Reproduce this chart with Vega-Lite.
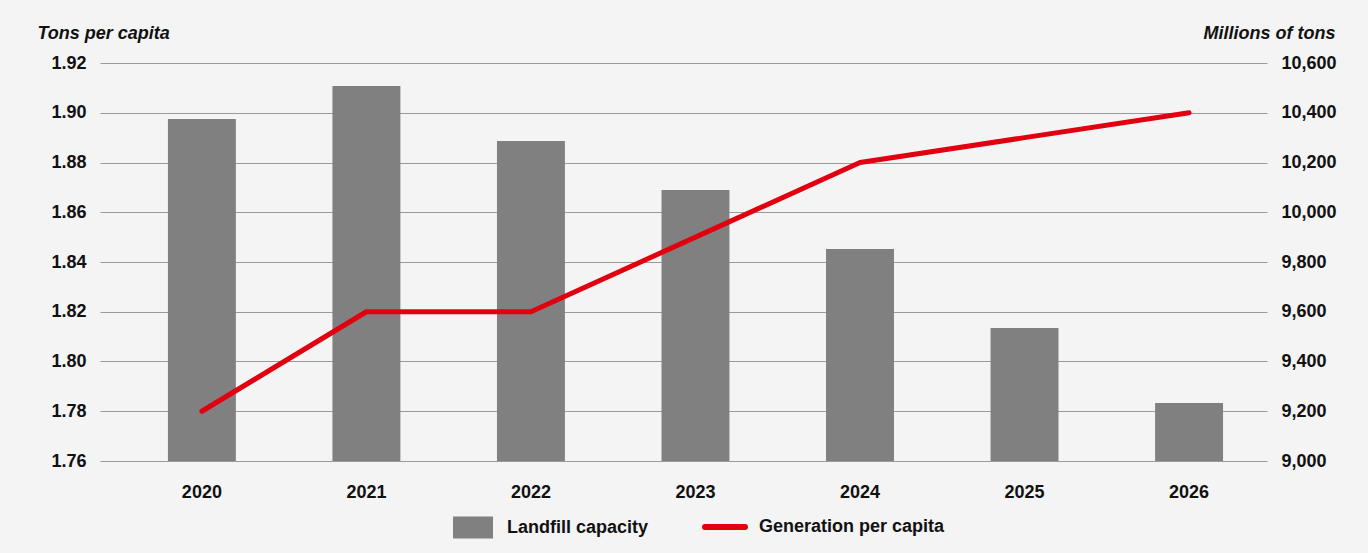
{
  "$schema": "https://vega.github.io/schema/vega-lite/v6.json",
  "autosize": {"type": "none"},
  "width": 1167,
  "height": 398,
  "padding": {"left": 100, "top": 63, "right": 101, "bottom": 92},
  "background": "#f4f4f4",
  "config": {
    "font": "Liberation Sans",
    "view": {"stroke": null},
    "axis": {"labelFont": "Liberation Sans", "labelFontWeight": "bold", "labelFontSize": 18, "labelColor": "#111111", "domain": false, "ticks": false}
  },
  "data": {
    "values": [
      {"year": "2020", "landfill": 10375, "gen": 1.78},
      {"year": "2021", "landfill": 10508, "gen": 1.82},
      {"year": "2022", "landfill": 10286, "gen": 1.82},
      {"year": "2023", "landfill": 10089, "gen": 1.85},
      {"year": "2024", "landfill": 9852, "gen": 1.88},
      {"year": "2025", "landfill": 9535, "gen": 1.89},
      {"year": "2026", "landfill": 9233, "gen": 1.90}
    ]
  },
  "encoding": {
    "x": {
      "field": "year", "type": "ordinal",
      "scale": {"paddingInner": 0.587, "paddingOuter": 0.34, "align": 0.607},
      "axis": {"title": null, "labelAngle": 0, "labelPadding": 22, "grid": false}
    }
  },
  "layer": [
    {
      "mark": {"type": "bar", "color": "#808080"},
      "encoding": {
        "y": {
          "field": "landfill", "type": "quantitative",
          "scale": {"domain": [9000, 10600], "zero": false, "nice": false},
          "axis": {"orient": "right", "values": [9000, 9200, 9400, 9600, 9800, 10000, 10200, 10400, 10600], "format": ",d", "grid": false, "labelPadding": 14, "labelAlign": "left",
            "title": "Millions of tons", "titleAngle": 0, "titleAlign": "right", "titleBaseline": "alphabetic", "titleX": 68, "titleY": -25, "titleFontSize": 18, "titleFontStyle": "italic", "titleFontWeight": "bold", "titleFont": "Liberation Sans", "titleColor": "#111111"}
        },
        "y2": {"datum": 9000},
        "color": {
          "datum": "Landfill capacity",
          "scale": {"domain": ["Landfill capacity", "Generation per capita"], "range": ["#808080", "#e00010"]},
          "legend": {
            "title": null, "orient": "none", "legendX": 364, "legendY": 455, "direction": "horizontal",
            "labelFontSize": 18, "labelFontWeight": "bold", "labelFont": "Liberation Sans", "labelColor": "#111111", "labelLimit": 400,
            "symbolSize": 1600, "labelOffset": 25, "columnPadding": 44, "padding": 0,
            "encode": {
              "symbols": {
                "update": {
                  "shape": {"signal": "datum.value === 'Landfill capacity' ? 'M-1,-0.55H1V0.55H-1Z' : 'M-1,0H1'"},
                  "fill": {"signal": "datum.value === 'Landfill capacity' ? '#808080' : 'transparent'"},
                  "stroke": {"signal": "datum.value === 'Landfill capacity' ? '#808080' : '#e00010'"},
                  "strokeWidth": {"signal": "datum.value === 'Landfill capacity' ? 0 : 6"},
                  "strokeCap": {"value": "round"},
                  "opacity": {"value": 1},
                  "fillOpacity": {"value": 1},
                  "strokeOpacity": {"value": 1}
                }
              }
            }
          }
        }
      }
    },
    {
      "mark": {"type": "line", "strokeWidth": 5, "strokeCap": "round", "strokeJoin": "round"},
      "encoding": {
        "y": {
          "field": "gen", "type": "quantitative",
          "scale": {"domain": [1.76, 1.92], "zero": false, "nice": false},
          "axis": {"orient": "left", "values": [1.76, 1.78, 1.8, 1.82, 1.84, 1.86, 1.88, 1.9, 1.92], "format": ".2f", "grid": true, "gridColor": "#9a9a9a", "gridWidth": 1, "gridOpacity": 1, "labelPadding": 14,
            "title": "Tons per capita", "titleAngle": 0, "titleAlign": "left", "titleBaseline": "alphabetic", "titleX": -63, "titleY": -25, "titleFontSize": 18, "titleFontStyle": "italic", "titleFontWeight": "bold", "titleFont": "Liberation Sans", "titleColor": "#111111"}
        },
        "color": {"datum": "Generation per capita"}
      }
    }
  ],
  "resolve": {"scale": {"y": "independent"}}
}
